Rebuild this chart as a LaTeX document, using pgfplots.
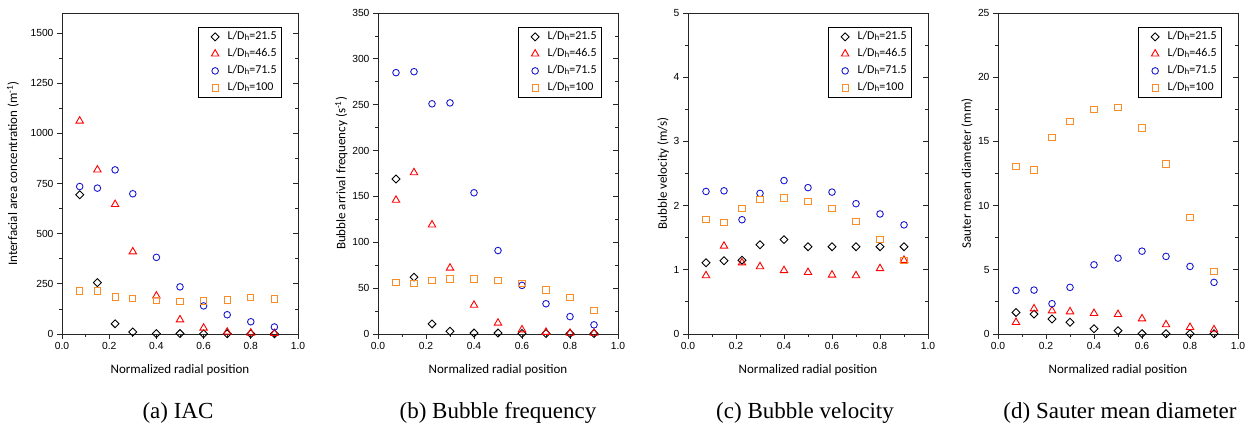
\documentclass[border=0pt]{standalone}
\usepackage{pgfplots}
\usepackage{pgfplotstable}
\pgfplotsset{compat=1.18}
\usepackage{fontspec}
\setmainfont{Liberation Sans}
\newfontfamily\calibri{Carlito}
\newfontfamily\timesf{Liberation Serif}

\definecolor{sred}{RGB}{255,0,0}
\definecolor{sblue}{RGB}{25,25,205}
\definecolor{sorange}{RGB}{250,140,40}

% columns: radial position, L/Dh=21.5, 46.5, 71.5, 100
\pgfplotstableread{
x     a     b     c     d
0.075 694   1062  735   215
0.15  256   818   727   215
0.225 51    646   818   185
0.3   10    410   699   178
0.4   2     190   382   167
0.5   2     71    235   162
0.6   1     30    140   165
0.7   1     10    96    170
0.8   1     5     61    183
0.9   1     3     35    175
}\iac
\pgfplotstableread{
x     a     b     c     d
0.075 169   146   285   56
0.15  62    176   286   55
0.225 11    119   251   58
0.3   3     72    252   60
0.4   1     31.5  154   60
0.5   1     12    91    58
0.6   0.5   4.7   53    55
0.7   0.5   2     33    48
0.8   0.5   1     19    40
0.9   0.5   1     10    26
}\freq
\pgfplotstableread{
x     a     b     c     d
0.075 1.11  0.91  2.22  1.79
0.15  1.14  1.37  2.23  1.74
0.225 1.15  1.11  1.78  1.96
0.3   1.39  1.05  2.19  2.10
0.4   1.47  0.99  2.39  2.12
0.5   1.36  0.96  2.28  2.06
0.6   1.36  0.92  2.21  1.96
0.7   1.36  0.91  2.03  1.75
0.8   1.36  1.02  1.87  1.47
0.9   1.36  1.15  1.70  1.14
}\vel
\pgfplotstableread{
x     a     b     c     d
0.075 1.68  0.91  3.39  13.03
0.15  1.55  1.97  3.42  12.77
0.225 1.17  1.81  2.36  15.31
0.3   0.91  1.74  3.63  16.55
0.4   0.41  1.61  5.39  17.51
0.5   0.26  1.53  5.91  17.62
0.6   0.03  1.19  6.45  16.04
0.7   0.02  0.73  6.04  13.24
0.8   0.02  0.52  5.26  9.09
0.9   0.02  0.34  4.02  4.84
}\smd

\newcommand{\ld}[1]{L/D\raisebox{-0.8pt}{\fontsize{9}{9}\selectfont h}=#1}

\pgfplotsset{
  panel/.style={
    width=240pt, height=321pt, scale only axis,
    xmin=0, xmax=1, xtick={0,0.2,0.4,0.6,0.8,1},
    minor x tick num=1, ymin=0, minor y tick num=1,
    tick pos=left, tick align=outside,
    major tick length=5pt, minor tick length=3pt,
    axis line style={line width=0.9pt, black!85},
    every tick/.style={line width=0.8pt, black!85},
    clip=false, scaled y ticks=false,
    tick label style={font=\fontsize{10.3}{12}\selectfont},
    /pgf/number format/assume math mode=true,
    xticklabel style={/pgf/number format/.cd, fixed, fixed zerofill, precision=1},
    yticklabel style={/pgf/number format/1000 sep={}},
    label style={font=\calibri\fontsize{13}{15}\selectfont},
    xlabel={Normalized radial position},
    xlabel style={at={(axis description cs:0.5,-0.1246)}, anchor=base},
    legend cell align=left,
    legend style={at={(1,1)}, anchor=north east, xshift=-16pt, yshift=-14pt,
      draw=black, line width=0.8pt,
      font=\calibri\fontsize{12}{13}\selectfont,
      inner xsep=3pt, inner ysep=1pt, row sep=0pt,
      nodes={inner ysep=3pt, inner xsep=2pt, text height=8.5pt, text depth=2.5pt},
      /tikz/every odd column/.append style={column sep=0pt}},
  },
  rside/.style={
    width=240pt, height=321pt, scale only axis,
    xmin=0, xmax=1, ymin=0, minor y tick num=1,
    axis x line=none, axis y line*=right, tick align=inside,
    yticklabels={}, major tick length=5pt, minor tick length=3pt,
    axis line style={draw=none}, every tick/.style={line width=0.8pt, black!85},
  },
  lgimg/.style={legend image code/.code={\path (0pt,0pt) (23pt,0pt);
    \draw[mark repeat=2,mark phase=2,##1] plot coordinates {(0pt,0pt) (13pt,0pt) (23pt,0pt)};}},
  s1/.style={only marks, lgimg, black, mark=square, mark size=2.8pt, mark options={rotate=45, line width=0.9pt}},
  s2/.style={only marks, lgimg, sred, mark=triangle, mark size=4.3pt, mark options={line width=0.9pt}},
  s3/.style={only marks, lgimg, sblue, mark=o, mark size=3.3pt, mark options={line width=0.9pt}},
  s4/.style={only marks, lgimg, sorange, mark=square, mark size=3.1pt, mark options={line width=0.9pt}},
}

\newcommand{\series}[1]{%
  \addplot[s1] table[x=x, y=a] {#1};
  \addplot[s2] table[x=x, y=b] {#1};
  \addplot[s3] table[x=x, y=c] {#1};
  \addplot[s4] table[x=x, y=d] {#1};
  \legend{\ld{21.5}, \ld{46.5}, \ld{71.5}, \ld{100}}}

\begin{document}
\begin{tikzpicture}
\path[use as bounding box] (0,0) rectangle (1250pt,427pt);

% (a) IAC
\begin{axis}[panel, at={(62pt,93pt)}, width=236pt, ymax=1600,
  ytick={0,250,...,1500},
  ylabel={Interfacial area concentration (m\textsuperscript{-1})},
  ylabel style={at={(axis description cs:-0.2076,0.5)}, anchor=center}]
\series{\iac}
\end{axis}
\begin{axis}[rside, at={(62pt,93pt)}, width=236pt, ymax=1600, ytick={0,250,...,1500}]
\end{axis}

% (b) bubble frequency
\begin{axis}[panel, at={(378pt,93pt)}, ymax=350,
  ytick={0,50,...,350},
  ylabel={Bubble arrival frequency (s\textsuperscript{-1})},
  ylabel style={at={(axis description cs:-0.1525,0.5)}, anchor=center}]
\series{\freq}
\end{axis}
\begin{axis}[rside, at={(378pt,93pt)}, ymax=350, ytick={0,50,...,350}]
\end{axis}

% (c) bubble velocity
\begin{axis}[panel, at={(688pt,93pt)}, ymax=5,
  ytick={0,1,...,5},
  ylabel={Bubble velocity (m/s)},
  ylabel style={at={(axis description cs:-0.104,0.5)}, anchor=center}]
\series{\vel}
\end{axis}
\begin{axis}[rside, at={(688pt,93pt)}, ymax=5, ytick={0,1,...,5}]
\end{axis}

% (d) Sauter mean diameter
\begin{axis}[panel, at={(998pt,93pt)}, ymax=25,
  ytick={0,5,...,25},
  ylabel={Sauter mean diameter (mm)},
  ylabel style={at={(axis description cs:-0.129,0.5)}, anchor=center}]
\series{\smd}
\end{axis}
\begin{axis}[rside, at={(998pt,93pt)}, ymax=25, ytick={0,5,...,25}]
\end{axis}

\begin{scope}[every node/.style={anchor=base, inner sep=0pt, font=\timesf\fontsize{23}{26}\selectfont}]
\node at (178pt,8pt) {(a) IAC};
\node at (498pt,8pt) {(b) Bubble frequency};
\node at (805pt,8pt) {(c) Bubble velocity};
\node at (1120pt,8pt) {(d) Sauter mean diameter};
\end{scope}
\end{tikzpicture}
\end{document}
